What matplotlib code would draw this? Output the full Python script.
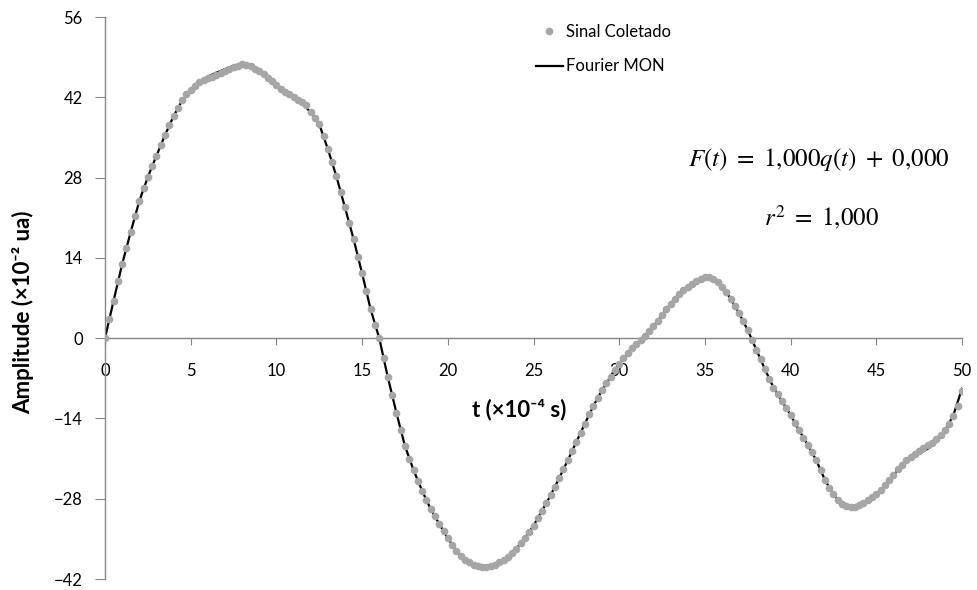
import matplotlib
matplotlib.use("Agg")
import matplotlib.pyplot as plt
import numpy as np

plt.rcParams['font.family'] = ['Lato', 'DejaVu Sans']

# signal sampled every 0.25 (x10^-4 s)
t_sinal = np.arange(0, 50.001, 0.25)
sinal = [
    0.0, 3.4, 6.5, 9.9, 12.9, 15.7, 18.5, 21.3,
    23.9, 26.1, 28.1, 30.0, 31.8, 33.6, 35.4, 37.1,
    38.7, 40.2, 41.5, 42.5, 43.3, 44.0, 44.6, 45.0,
    45.3, 45.6, 45.9, 46.2, 46.6, 46.9, 47.2, 47.5,
    47.8, 47.7, 47.4, 47.0, 46.5, 46.0, 45.4, 44.8,
    44.1, 43.5, 43.0, 42.5, 42.0, 41.6, 41.2, 40.6,
    39.5, 38.4, 37.3, 35.2, 33.0, 30.7, 28.2, 25.5,
    22.8, 20.1, 17.3, 14.2, 11.3, 8.2, 5.0, 2.3,
    0.0, -3.4, -6.8, -9.9, -13.0, -16.1, -18.8, -21.0,
    -23.0, -24.9, -26.6, -28.3, -29.8, -31.1, -32.4, -33.6,
    -34.9, -36.1, -37.2, -38.0, -38.6, -39.1, -39.5, -39.8,
    -39.9, -39.9, -39.7, -39.5, -39.1, -38.7, -38.1, -37.5,
    -36.7, -35.8, -34.9, -33.8, -32.7, -31.4, -30.1, -28.8,
    -27.4, -25.9, -24.4, -22.9, -21.3, -19.7, -18.1, -16.5,
    -14.9, -13.3, -11.8, -10.5, -9.1, -7.9, -6.7, -5.6,
    -4.5, -3.5, -2.6, -1.8, -1.1, -0.3, 0.4, 1.2,
    2.1, 3.0, 4.0, 5.0, 6.0, 6.9, 7.7, 8.4,
    9.0, 9.5, 10.0, 10.3, 10.6, 10.7, 10.4, 9.8,
    9.0, 8.0, 6.9, 5.6, 4.3, 3.0, 1.4, -0.3,
    -2.0, -3.7, -5.4, -7.2, -8.7, -9.8, -10.9, -12.1,
    -13.4, -14.8, -16.1, -17.4, -18.6, -19.8, -21.3, -23.0,
    -24.7, -26.1, -27.2, -28.2, -28.9, -29.3, -29.5, -29.4,
    -29.1, -28.7, -28.2, -27.7, -27.1, -26.4, -25.6, -24.7,
    -23.8, -22.9, -22.1, -21.3, -20.7, -20.2, -19.7, -19.2,
    -18.7, -18.2, -17.6, -16.9, -16.0, -14.9, -13.5, -11.8,
    -9.2,
]

# Fourier (MON) fit, every 0.5
t_fourier = np.arange(0, 50.001, 0.5)
fourier = [
    0.0, 6.5, 12.9, 18.5, 23.9, 28.1, 31.8, 35.4, 38.7, 41.4,
    43.3, 44.7, 45.6, 46.3, 46.9, 47.5, 47.8, 47.5, 46.6, 45.5,
    44.2, 43.0, 41.9, 40.9, 39.4, 37.3, 33.0, 28.2, 22.8, 17.3,
    11.3, 5.0, 0.0, -6.8, -13.0, -18.8, -23.0, -26.6, -29.8, -32.4,
    -34.9, -37.1, -38.6, -39.5, -39.9, -39.7, -39.1, -38.1, -36.7, -34.9,
    -32.7, -30.1, -27.4, -24.4, -21.3, -18.1, -14.9, -11.8, -9.1, -6.7,
    -4.5, -2.6, -1.1, 0.5, 2.1, 4.0, 6.0, 7.7, 9.0, 10.0,
    10.6, 10.4, 9.0, 6.9, 4.3, 1.4, -2.0, -5.4, -8.6, -11.0,
    -13.4, -16.1, -18.6, -21.3, -24.7, -27.3, -29.0, -29.7, -29.3, -28.4,
    -27.2, -25.7, -23.9, -22.2, -21.0, -20.1, -19.3, -18.1, -16.2, -13.4,
    -8.8,
]

x_ticks = np.arange(0, 51, 5)
y_ticks = np.arange(-42, 57, 14)

fig = plt.figure(figsize=(9.78, 5.9), dpi=100)
ax = fig.add_axes([105 / 978, 11 / 590, 857 / 978, 562 / 590])

ax.plot(t_fourier, fourier, color='black', lw=1.6, label='Fourier MON', zorder=2)
ax.plot(t_sinal, sinal, 'o', color='#A6A6A6', ms=5.5, mec='none',
        label='Sinal Coletado', zorder=3)

ax.set_xlim(0, 50)
ax.set_ylim(-42, 56)
ax.set_xticks(x_ticks)
ax.set_yticks(y_ticks)

for side in ['top', 'right']:
    ax.spines[side].set_visible(False)
ax.spines['bottom'].set_position(('data', 0))
for side in ['left', 'bottom']:
    ax.spines[side].set_color('#868686')
    ax.spines[side].set_linewidth(1.0)

ax.tick_params(axis='x', direction='out', length=5, color='#868686',
               labelsize=12, pad=13)
ax.tick_params(axis='y', direction='out', length=7, color='#868686',
               labelsize=12, pad=9)

ax.set_xlabel('t (×10⁻⁴ s)', fontsize=16, fontweight='bold')
ax.xaxis.set_label_coords(414 / 857, 169 / 562)
ax.xaxis.label.set_va('center')
ax.set_ylabel('Amplitude (×10⁻² ua)', fontsize=16, fontweight='bold')
ax.yaxis.set_label_coords(-82 / 857, 267 / 562)
ax.yaxis.label.set_va('center')

handles, labels = ax.get_legend_handles_labels()
ax.legend(handles[::-1], labels[::-1], loc='upper left',
          bbox_to_anchor=(536 / 978, 1 - 24 / 590), bbox_transform=fig.transFigure,
          frameon=False, fontsize=12, handlelength=1.6, handletextpad=0.2,
          labelspacing=1.1, borderpad=0, borderaxespad=0)

# fit equation and r^2
ax.text(950 / 978, 1 - 160 / 590,
        r'$F(t)\ =\ 1{,}000q(t)\ +\ 0{,}000$',
        transform=fig.transFigure, ha='right', va='center', fontsize=18,
        math_fontfamily='stix')
ax.text(822 / 978, 1 - 218 / 590, r'$r^2\ =\ 1{,}000$',
        transform=fig.transFigure, ha='center', va='center', fontsize=18,
        math_fontfamily='stix')

fig.savefig('out.png', dpi=100)
